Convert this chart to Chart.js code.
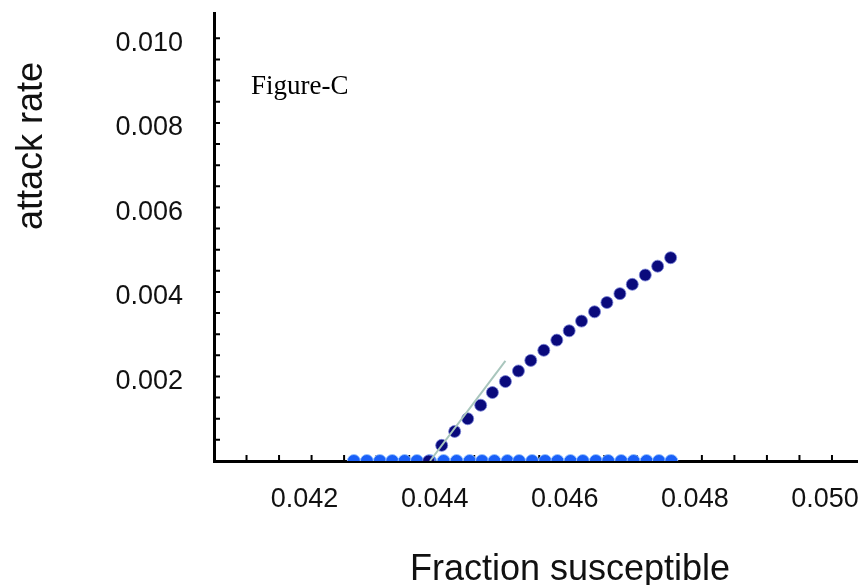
<!DOCTYPE html>
<html>
<head>
<meta charset="UTF-8">
<title>attack rate vs fraction susceptible</title>
<script src="https://cdn.jsdelivr.net/npm/chart.js"></script>
<style>
    html, body { margin: 0; padding: 0; background: #fff; }
    #wrap { width: 858px; height: 585px; }
</style>
</head>
<body>
<div id="wrap"><canvas id="chart"></canvas></div>
<script>
    // dark points: attack rate above threshold
    const darkX = [0.04380, 0.04400, 0.04420, 0.04440, 0.04460, 0.04478, 0.04498, 0.04518, 0.04537, 0.04557,
                   0.04577, 0.04596, 0.04615, 0.04635, 0.04654, 0.04674, 0.04693, 0.04713, 0.04732, 0.04752];
    const darkY = [0, 0.00037, 0.00070, 0.00100, 0.00132, 0.00162, 0.00188, 0.00213, 0.00238, 0.00262,
                   0.00286, 0.00308, 0.00331, 0.00353, 0.00375, 0.00396, 0.00418, 0.00440, 0.00461, 0.00481];

    // light blue points along the axis
    const blueX = [0.04265, 0.04285, 0.04305, 0.04324, 0.04343, 0.04362, 0.04382, 0.04403, 0.04423, 0.04443,
                   0.04462, 0.04481, 0.04501, 0.04519, 0.04539, 0.04559, 0.04578, 0.04598, 0.04617, 0.04637,
                   0.04656, 0.04676, 0.04695, 0.04715, 0.04734, 0.04753];
    const blueY = [0, 0, 0, 0, 0, 0, 0, 0, 0, 0, 0, 0, 0, 0, 0, 0, 0, 0, 0, 0, 0, 0, 0, 0, 0, 0];

    // tangent line at the threshold
    const lineX = [0.04382, 0.04498];
    const lineY = [0, 0.00237];

    const xTicks = [0.042, 0.044, 0.046, 0.048, 0.050];
    const yTicks = [0.002, 0.004, 0.006, 0.008, 0.010];

    const sans = "'Liberation Sans', Arial, sans-serif";

    function pts(xs, ys) {
        return xs.map((x, i) => ({ x: x, y: ys[i] }));
    }

    // inward minor ticks + texts
    const extras = {
        id: 'extras',
        beforeDatasetsDraw(chart) {
            const ctx = chart.ctx;
            const xs = chart.scales.x, ys = chart.scales.y;
            ctx.save();
            ctx.strokeStyle = '#000';
            ctx.lineWidth = 2;
            ctx.beginPath();
            for (let v = 0.041; v <= 0.0511; v += 0.0005) {
                const px = xs.getPixelForValue(v);
                ctx.moveTo(px, ys.bottom);
                ctx.lineTo(px, ys.bottom - 6);
            }
            for (let v = 0.0005; v <= 0.01001; v += 0.0005) {
                const py = ys.getPixelForValue(v);
                ctx.moveTo(xs.left, py);
                ctx.lineTo(xs.left + 6, py);
            }
            ctx.stroke();
            ctx.restore();
        },
        afterDraw(chart) {
            const ctx = chart.ctx;
            ctx.save();
            ctx.fillStyle = '#000';
            ctx.font = "27px 'Liberation Serif', 'Times New Roman', serif";
            ctx.textAlign = 'left';
            ctx.textBaseline = 'alphabetic';
            ctx.fillText('Figure-C', 251, 94);

            ctx.fillStyle = '#111';
            ctx.font = '36px ' + sans;
            ctx.textAlign = 'center';
            ctx.fillText('Fraction susceptible', 570, 580);

            ctx.translate(42, 146);
            ctx.rotate(-Math.PI / 2);
            ctx.fillText('attack rate', 0, 0);
            ctx.restore();
        }
    };

    new Chart(document.getElementById('chart'), {
        type: 'scatter',
        data: {
            datasets: [
                {
                    type: 'line',
                    data: pts(lineX, lineY),
                    borderColor: '#a9c6bd',
                    borderWidth: 2,
                    pointRadius: 0,
                    fill: false,
                    order: 0
                },
                {
                    data: pts(darkX, darkY),
                    backgroundColor: '#0a0a7c',
                    borderColor: 'rgba(120,130,215,0.8)',
                    borderWidth: 1,
                    pointRadius: 6,
                    order: 1
                },
                {
                    data: pts(blueX, blueY),
                    backgroundColor: '#1a60f8',
                    borderColor: 'rgba(150,195,255,0.9)',
                    borderWidth: 1,
                    pointRadius: 6.5,
                    order: 2
                }
            ]
        },
        options: {
            responsive: true,
            maintainAspectRatio: false,
            animation: false,
            layout: { autoPadding: false, padding: { top: 13, left: 0, right: 0, bottom: 0 } },
            plugins: {
                legend: { display: false },
                tooltip: { enabled: false }
            },
            scales: {
                x: {
                    type: 'linear',
                    min: 0.0405,
                    max: 0.0504,
                    grid: { display: false, drawTicks: false },
                    border: { display: true, color: '#000', width: 3 },
                    afterBuildTicks: s => { s.ticks = xTicks.map(v => ({ value: v })); },
                    afterFit: s => { s.height = 124; s.paddingLeft = 0; s.paddingRight = 0; },
                    ticks: {
                        color: '#111',
                        font: { family: sans, size: 27 },
                        padding: 22,
                        labelOffset: -7,
                        maxRotation: 0,
                        autoSkip: false,
                        callback: v => v.toFixed(3)
                    }
                },
                y: {
                    type: 'linear',
                    min: 0,
                    max: 0.0106,
                    grid: { display: false, drawTicks: false },
                    border: { display: true, color: '#000', width: 3 },
                    afterBuildTicks: s => { s.ticks = yTicks.map(v => ({ value: v })); },
                    afterFit: s => { s.width = 214; s.paddingTop = 0; s.paddingBottom = 0; },
                    ticks: {
                        color: '#111',
                        font: { family: sans, size: 27 },
                        padding: 31,
                        labelOffset: 5,
                        autoSkip: false,
                        callback: v => v.toFixed(3)
                    }
                }
            }
        },
        plugins: [extras]
    });
</script>
</body>
</html>
